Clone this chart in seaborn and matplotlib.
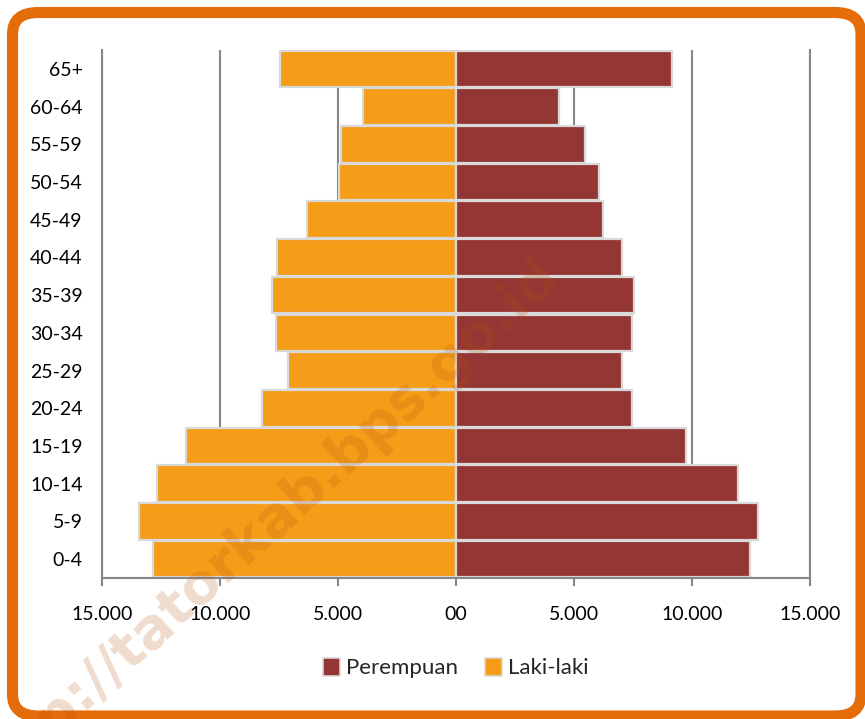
import matplotlib
matplotlib.use("Agg")
import matplotlib.pyplot as plt
import seaborn as sns
import pandas as pd
from matplotlib.patches import Patch, FancyBboxPatch

age_groups = ["65+", "60-64", "55-59", "50-54", "45-49", "40-44", "35-39",
              "30-34", "25-29", "20-24", "15-19", "10-14", "5-9", "0-4"]
laki_laki = [7460, 3960, 4890, 4970, 6330, 7600, 7800,
             7630, 7120, 8200, 11440, 12680, 13450, 12850]
perempuan = [9150, 4380, 5470, 6060, 6230, 7030, 7540,
             7460, 7030, 7450, 9750, 11950, 12800, 12460]
x_ticks = [-15000, -10000, -5000, 0, 5000, 10000, 15000]
x_tick_labels = ["15.000", "10.000", "5.000", "00", "5.000", "10.000", "15.000"]

c_male = "#F59D18"
c_female = "#943634"
c_edge = "#D9D9D9"
c_grid = "#868686"
c_frame = "#E46C0A"

sns.set_style("white")
plt.rcParams["font.family"] = ["Lato", "DejaVu Sans"]

df = pd.DataFrame({"age": age_groups,
                   "male": [-v for v in laki_laki],
                   "female": perempuan})

fig = plt.figure(figsize=(8.65, 7.19), dpi=100)
ax = fig.add_axes([102 / 865, 1 - 578 / 719, 708 / 865, 528 / 719])

sns.barplot(data=df, y="age", x="male", order=age_groups, orient="h",
            color=c_male, saturation=1, width=0.97, edgecolor=c_edge,
            linewidth=1.6, ax=ax, zorder=2)
sns.barplot(data=df, y="age", x="female", order=age_groups, orient="h",
            color=c_female, saturation=1, width=0.97, edgecolor=c_edge,
            linewidth=1.6, ax=ax, zorder=2)

ax.set_xlim(-15000, 15000)
ax.set_ylim(len(age_groups) - 0.5, -0.5)
ax.set_xticks(x_ticks)
ax.set_xticklabels(x_tick_labels)
ax.set_xlabel("")
ax.set_ylabel("")
ax.xaxis.grid(True, color=c_grid, linewidth=1.5, zorder=0)
ax.yaxis.grid(False)
ax.set_axisbelow(True)

for side in ["left", "right", "bottom"]:
    ax.spines[side].set_visible(True)
    ax.spines[side].set_color(c_grid)
    ax.spines[side].set_linewidth(1.5)
ax.spines["top"].set_visible(False)

ax.tick_params(axis="x", which="both", bottom=True, length=6, width=1.5,
               color=c_grid, direction="out", pad=14, labelsize=14,
               labelcolor="black")
ax.tick_params(axis="y", which="both", left=False, length=0, pad=14,
               labelsize=14, labelcolor="black")

sec = ax.secondary_yaxis(0.5)
sec.set_yticks(range(len(age_groups)))
sec.tick_params(axis="y", length=4, width=1.5, color=c_grid, direction="out",
                labelleft=False, labelright=False)
sec.spines["left"].set_color(c_grid)
sec.spines["left"].set_linewidth(1.5)
sec.spines["left"].set_zorder(5)

handles = [Patch(facecolor=c_female, edgecolor=c_edge, linewidth=1.2, label="Perempuan"),
           Patch(facecolor=c_male, edgecolor=c_edge, linewidth=1.2, label="Laki-laki")]
fig.legend(handles=handles, loc="center", bbox_to_anchor=(0.527, 1 - 668 / 719),
           ncol=2, frameon=False, fontsize=16, handlelength=0.75,
           handleheight=0.9, handletextpad=0.3, columnspacing=1.2)

frame = FancyBboxPatch((12.5 / 865, 1 - 716 / 719), (861 - 12.5) / 865, (716 - 12.5) / 719,
                       boxstyle="round,pad=0,rounding_size=0.03",
                       transform=fig.transFigure, facecolor="none",
                       edgecolor=c_frame, linewidth=8, zorder=10)
fig.patches.append(frame)

fig.text(552 / 865, 1 - 268 / 719, "http://tatorkab.bps.go.id", ha="right",
         va="center", rotation=42, rotation_mode="anchor", fontsize=40,
         fontweight="bold", color="#B5500F", alpha=0.2,
         family=["DejaVu Sans"], zorder=20)

fig.savefig("out.png", dpi=100)
